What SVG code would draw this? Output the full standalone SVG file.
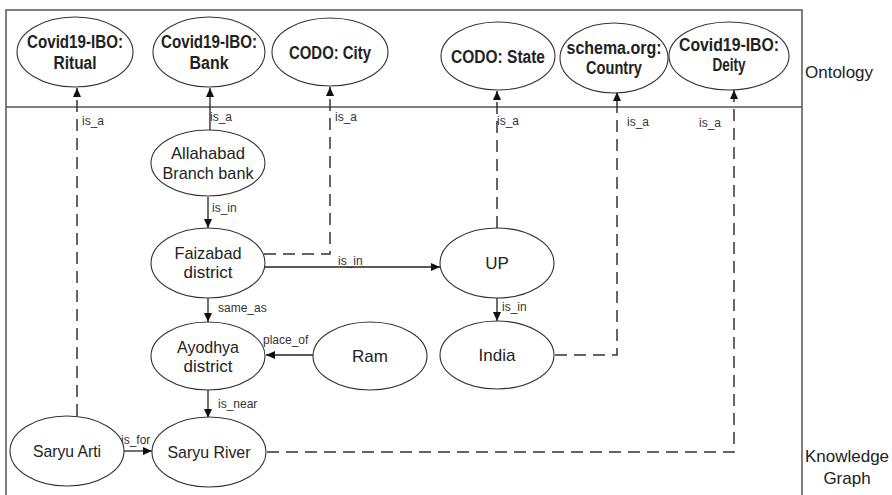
<svg xmlns="http://www.w3.org/2000/svg" width="892" height="495" viewBox="0 0 892 495">
<style>
.frame{fill:none;stroke:#555;stroke-width:1.5}
.node ellipse{fill:#fff;stroke:#333;stroke-width:1.1}
.t{font-family:"Liberation Sans",Arial,sans-serif;font-size:17px;fill:#222;text-anchor:middle}
.b{font-family:"Liberation Sans",Arial,sans-serif;font-size:18px;font-weight:bold;fill:#222;text-anchor:middle}
.side{font-family:"Liberation Sans",Arial,sans-serif;font-size:17px;fill:#222}
.lbl{font-family:"Liberation Sans",Arial,sans-serif;font-size:12px;fill:#333}
.solid{fill:none;stroke:#222;stroke-width:1.3;marker-end:url(#ah)}
.dash{fill:none;stroke:#333;stroke-width:1.5;stroke-dasharray:12 7;marker-end:url(#ah)}
</style>
<defs>
<marker id="ah" markerWidth="10" markerHeight="10" refX="9" refY="5" orient="auto" markerUnits="userSpaceOnUse">
<path d="M0,1 L9,5 L0,9 Z" fill="#111"/>
</marker>
</defs>
<rect width="892" height="495" fill="#fff"/>
<g id="frame">
<rect class="frame" x="6" y="10" width="796" height="500"/>
<line class="frame" x1="6" y1="107" x2="802" y2="107"/>
<text class="side" x="805" y="78">Ontology</text>
<text class="side" x="847" y="462" text-anchor="middle">Knowledge</text>
<text class="side" x="847" y="484" text-anchor="middle">Graph</text>
</g>
<g id="connectors">
<path class="dash" d="M77,416 V88"/>
<text class="lbl" x="82" y="125">is_a</text>
<path class="solid" d="M210,130 V88"/>
<text class="lbl" x="210" y="121">is_a</text>
<path class="dash" d="M264,254 H330 V87"/>
<text class="lbl" x="335" y="121">is_a</text>
<path class="solid" d="M208,197 V228"/>
<text class="lbl" x="212" y="212">is_in</text>
<path class="solid" d="M265,267 H440"/>
<text class="lbl" x="338" y="265">is_in</text>
<path class="dash" d="M497,228 V91"/>
<text class="lbl" x="497" y="125">is_a</text>
<path class="solid" d="M497,298 V321"/>
<text class="lbl" x="502" y="311">is_in</text>
<path class="dash" d="M555,355 H617 V92"/>
<text class="lbl" x="627" y="126">is_a</text>
<path class="dash" d="M267,452 H734 V90"/>
<text class="lbl" x="699" y="127">is_a</text>
<path class="solid" d="M208,298 V322"/>
<text class="lbl" x="218" y="312">same_as</text>
<path class="solid" d="M313,355 H266"/>
<text class="lbl" x="263" y="344">place_of</text>
<path class="solid" d="M208,390 V418"/>
<text class="lbl" x="218" y="408">is_near</text>
<path class="solid" d="M124,451 H152"/>
<text class="lbl" x="121" y="444">is_for</text>
</g>
<g id="ritual" class="node"><ellipse cx="75" cy="52" rx="58" ry="35"/><text class="b" x="75" y="48" textLength="96" lengthAdjust="spacingAndGlyphs">Covid19-IBO:</text><text class="b" x="75" y="69" textLength="43" lengthAdjust="spacingAndGlyphs">Ritual</text></g>
<g id="bank" class="node"><ellipse cx="209" cy="52" rx="56" ry="35"/><text class="b" x="209" y="48" textLength="96" lengthAdjust="spacingAndGlyphs">Covid19-IBO:</text><text class="b" x="209" y="69" textLength="39" lengthAdjust="spacingAndGlyphs">Bank</text></g>
<g id="city" class="node"><ellipse cx="330" cy="52" rx="58" ry="34"/><text class="b" x="330" y="59" textLength="82" lengthAdjust="spacingAndGlyphs">CODO: City</text></g>
<g id="state" class="node"><ellipse cx="498" cy="56" rx="57" ry="34"/><text class="b" x="498" y="63" textLength="94" lengthAdjust="spacingAndGlyphs">CODO: State</text></g>
<g id="country" class="node"><ellipse cx="614" cy="58" rx="54" ry="35"/><text class="b" x="614" y="54" textLength="95" lengthAdjust="spacingAndGlyphs">schema.org:</text><text class="b" x="614" y="74" textLength="56" lengthAdjust="spacingAndGlyphs">Country</text></g>
<g id="deity" class="node"><ellipse cx="729" cy="56" rx="60" ry="34"/><text class="b" x="729" y="51" textLength="100" lengthAdjust="spacingAndGlyphs">Covid19-IBO:</text><text class="b" x="729" y="71" textLength="33" lengthAdjust="spacingAndGlyphs">Deity</text></g>
<g id="allahabad" class="node"><ellipse cx="208" cy="163" rx="57" ry="33"/><text class="t" x="208" y="159" textLength="74" lengthAdjust="spacingAndGlyphs">Allahabad</text><text class="t" x="208" y="179" textLength="91" lengthAdjust="spacingAndGlyphs">Branch bank</text></g>
<g id="faizabad" class="node"><ellipse cx="208" cy="263" rx="57" ry="35"/><text class="t" x="208" y="259" textLength="67" lengthAdjust="spacingAndGlyphs">Faizabad</text><text class="t" x="208" y="278">district</text></g>
<g id="up" class="node"><ellipse cx="497" cy="263" rx="57" ry="35"/><text class="t" x="497" y="269">UP</text></g>
<g id="ayodhya" class="node"><ellipse cx="208" cy="356" rx="57" ry="34"/><text class="t" x="208" y="353" textLength="62" lengthAdjust="spacingAndGlyphs">Ayodhya</text><text class="t" x="208" y="372">district</text></g>
<g id="ram" class="node"><ellipse cx="370" cy="356" rx="57" ry="34"/><text class="t" x="370" y="362">Ram</text></g>
<g id="india" class="node"><ellipse cx="497" cy="355" rx="57" ry="34"/><text class="t" x="497" y="361">India</text></g>
<g id="saryuarti" class="node"><ellipse cx="67" cy="451" rx="57" ry="35"/><text class="t" x="67" y="457" textLength="68" lengthAdjust="spacingAndGlyphs">Saryu Arti</text></g>
<g id="saryuriver" class="node"><ellipse cx="209" cy="452" rx="57" ry="35"/><text class="t" x="209" y="458" textLength="83" lengthAdjust="spacingAndGlyphs">Saryu River</text></g>
</svg>
